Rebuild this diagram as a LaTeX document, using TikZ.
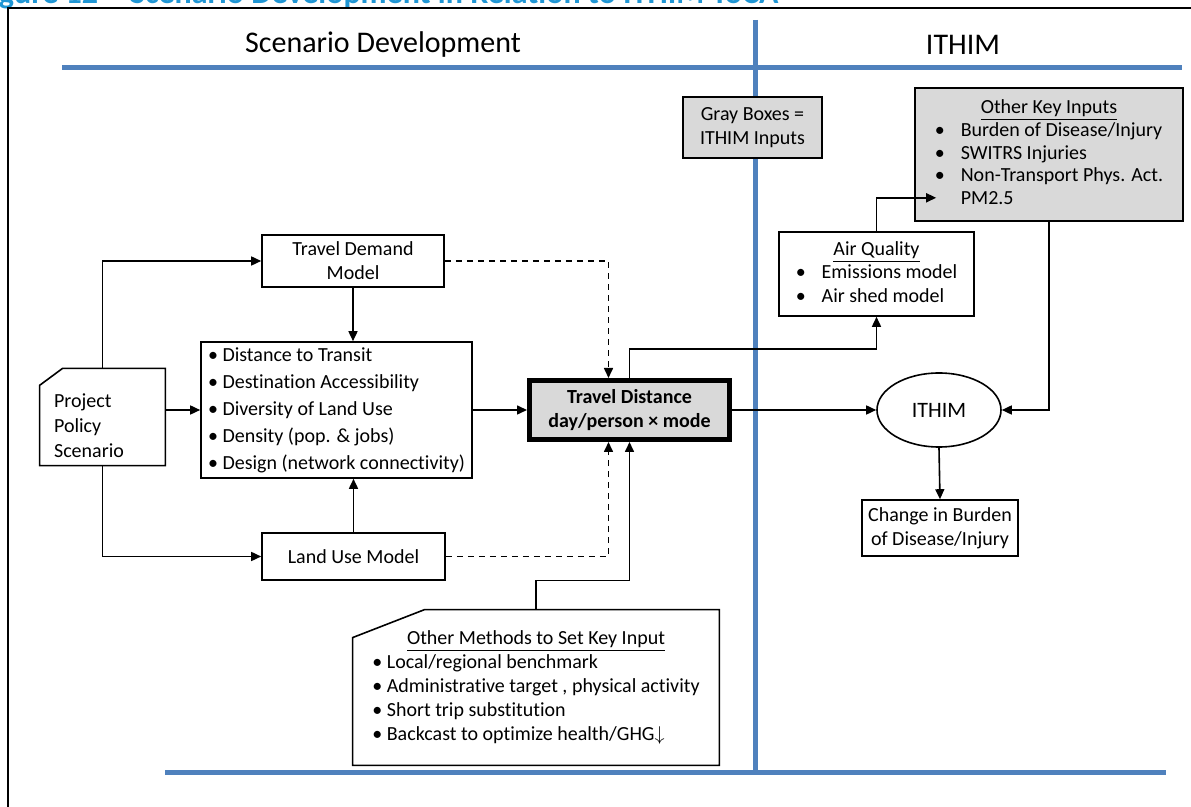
\documentclass[tikz,border=0pt]{standalone}
\usepackage{fontspec}
\setmainfont[Ligatures=NoCommon]{Carlito}
\usetikzlibrary{positioning,shapes.geometric,arrows.meta}
\definecolor{rulebl}{RGB}{79,129,189}
\definecolor{capbl}{RGB}{32,150,212}
\definecolor{inpgray}{RGB}{217,217,217}

\begin{document}
\begin{tikzpicture}[x=0.5pt, y=-0.5pt,
    box/.style={draw, line width=0.8pt, fill=#1, align=center, inner sep=2pt,
                font=\fontsize{10}{12}\selectfont},
    box/.default=white,
    arr/.style={-{Triangle[length=5pt,width=4.5pt]}, line width=0.8pt},
    dsh/.style={arr, dash pattern=on 3pt off 2.5pt},
    rule/.style={draw=rulebl, line width=2.5pt},
    head/.style={font=\fontsize{15}{18}\selectfont},
]
    \useasboundingbox (0,0) rectangle (1191,807);
    % caption, cut by the page edge
    \begin{scope}
        \clip (0,0) rectangle (1191,807);
        \node[anchor=base west, inner sep=0pt, text=capbl,
              font=\fontsize{16}{18}\selectfont\bfseries]
            (cap) at (-24,4) {Figure 12\quad Scenario Development in Relation to ITHIM-ToCA};
    \end{scope}
    \draw[line width=1pt] (8,807) -- (8,8) -- (1191,8);

    \draw[rule] (62,68) -- (1182,68);
    \draw[rule] (755,20) -- (755,773);
    \draw[rule] (165,773) -- (1166,773);
    \node[head] (scen)   at (383,45) {Scenario Development};
    \node[head] (ithimh) at (963,45) {ITHIM};

    % scenario side
    \node[box, minimum width=91pt, minimum height=26pt] (tdm) at (353,261) {Travel Demand\\Model};
    \node[box, minimum width=135.5pt, minimum height=68pt, align=left,
          font=\fontsize{10}{13.5}\selectfont] (lst) at (336.5,410)
        {\textbullet~Distance to Transit\\ \textbullet~Destination Accessibility\\
         \textbullet~Diversity of Land Use\\ \textbullet~Density (pop. \& jobs)\\
         \textbullet~Design (network connectivity)};
    \node[box, minimum width=91.5pt, minimum height=23.5pt] (lum) at (353.5,556.5) {Land Use Model};
    \node[minimum width=62.5pt, minimum height=47pt, inner sep=0pt,
          font=\fontsize{10}{12.5}\selectfont] (pps) at (102.5,417)
        {\begin{tabular}{@{}l@{\hspace{13.5pt}}}\rule{0pt}{19.5pt}Project\\Policy\\Scenario\end{tabular}};
    \draw[line width=0.8pt] ([yshift=-8.5pt]pps.north west) -- ([xshift=11.5pt]pps.north west)
        -- (pps.north east) -- (pps.south east) -- (pps.south west) -- cycle;

    \node[box=inpgray, line width=2.5pt, minimum width=100pt, minimum height=29.5pt,
          font=\fontsize{10}{12}\selectfont\bfseries] (td) at (629.5,410) {Travel Distance\\day/person × mode};

    \node[minimum width=183pt, minimum height=77.5pt, inner sep=0pt,
          font=\fontsize{10}{12}\selectfont] (oth) at (536,687.5)
        {\begin{tabular}{@{}l@{}}\multicolumn{1}{@{}c@{}}{\underline{Other Methods to Set Key Input}}\\
         \textbullet~Local/regional benchmark\\ \textbullet~Administrative target , physical activity\\
         \textbullet~Short trip substitution\\ \textbullet~Backcast to optimize health/GHG$\downarrow$\end{tabular}};
    \draw[line width=0.8pt] ([yshift=-14pt]oth.north west) -- ([xshift=36pt]oth.north west)
        -- (oth.north east) -- (oth.south east) -- (oth.south west) -- cycle;

    % ITHIM side
    \node[box=inpgray, minimum width=69.5pt, minimum height=30.5pt] (gray) at (752.5,127.5) {Gray Boxes =\\ITHIM Inputs};
    \node[box=inpgray, minimum width=134pt, minimum height=66.5pt,
          font=\fontsize{10}{11.25}\selectfont] (oki) at (1049,154.5)
        {\begin{tabular}{@{}c@{\hspace{8pt}}l@{}}\multicolumn{2}{@{}c@{}}{\underline{Other Key Inputs}}\\
         \textbullet & Burden of Disease/Injury\\ \textbullet & SWITRS Injuries\\
         \textbullet & Non-Transport Phys. Act.\\ & PM2.5\end{tabular}};
    \node[box, minimum width=97.5pt, minimum height=42pt,
          font=\fontsize{10}{11.75}\selectfont] (aq) at (876.5,274)
        {\begin{tabular}{@{}c@{\hspace{8pt}}l@{}}\multicolumn{2}{@{}c@{}}{\underline{Air Quality}}\\
         \textbullet & Emissions model\\ \textbullet & Air shed model\end{tabular}};
    \node[draw, ellipse, line width=0.8pt, minimum width=62pt, minimum height=37pt, inner sep=0pt,
          font=\fontsize{11}{13}\selectfont] (ith) at (939,410) {ITHIM};
    \node[box, minimum width=78pt, minimum height=28pt] (chg) at (940,528) {Change in Burden\\of Disease/Injury};
    \coordinate (pmtip) at ([xshift=11pt,yshift=12pt]oki.south west);

    \draw[arr] (pps.north) |- (tdm.west);
    \draw[arr] (pps.south) |- (lum.west);
    \draw[arr] (pps.east |- lst.west) -- (lst.west);
    \draw[arr] (tdm.south) -- (tdm.south |- lst.north);
    \draw[arr] (lum.north) -- (lum.north |- lst.south);
    \draw[arr] (lst.east) -- (td.west);
    \draw[dsh] (tdm.east) -| ([xshift=-10.5pt]td.north);
    \draw[dsh] (lum.east) -| ([xshift=-10.5pt]td.south);
    \draw[arr] (oth.north) -- ++(0,-29) -| (td.south);
    \draw[arr] (td.north) -- ++(0,-29) -| (aq.south);
    \draw[arr] (aq.north) |- (pmtip);
    \draw[arr] (td.east) -- (ith.west);
    \draw[arr] (oki.south) |- (ith.east);
    \draw[arr] (ith.south) -- (chg.north);
\end{tikzpicture}
\end{document}
